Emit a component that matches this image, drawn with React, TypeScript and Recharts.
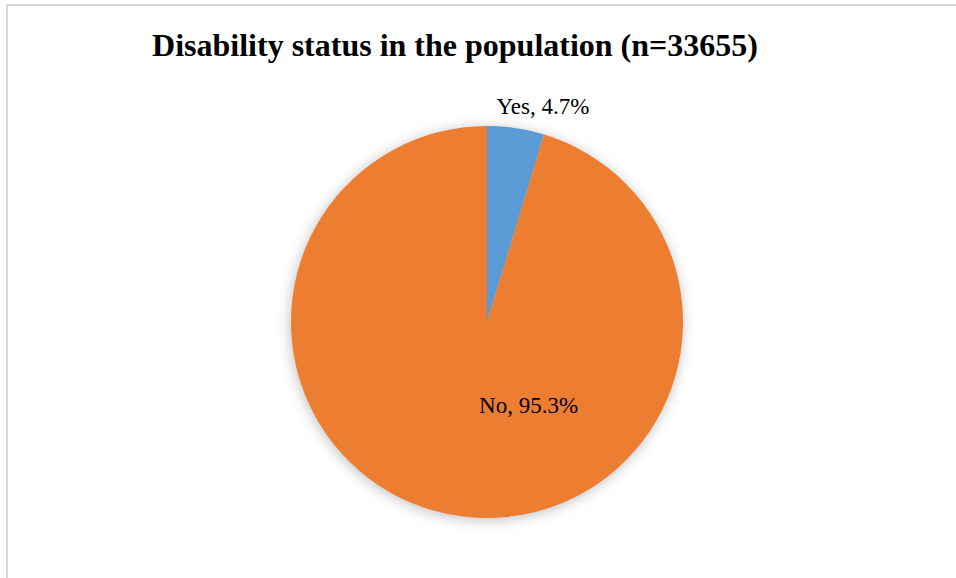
import React from "react";
import { PieChart, Pie, Cell } from "recharts";

const categories = ["Yes", "No"];
const values = [4.7, 95.3];
const colors = ["#5B9BD5", "#ED7D31"];
const title = "Disability status in the population (n=33655)";

const data = categories.map((name, i) => ({ name, value: values[i] }));

// label placement style: radius factor relative to outer radius and horizontal shift
const labelStyle = [
  { rf: 1.11, dx: 24 },
  { rf: 0.43, dx: 54 },
];

const RAD = Math.PI / 180;

const renderLabel = (props: any) => {
  const { cx, cy, outerRadius, midAngle, index, name, value } = props;
  const s = labelStyle[index];
  const r = outerRadius * s.rf;
  const x = cx + r * Math.cos(-midAngle * RAD) + s.dx;
  const y = cy + r * Math.sin(-midAngle * RAD);
  return (
    <text
      x={x}
      y={y}
      textAnchor="middle"
      dominantBaseline="central"
      fontFamily="'Liberation Serif', 'Times New Roman', serif"
      fontSize={23}
      fill="#000"
    >
      {`${name}, ${value.toFixed(1)}%`}
    </text>
  );
};

export default function App() {
  return (
    <div style={{ position: "fixed", left: 0, top: 0, width: 956, height: 578, overflow: "hidden", background: "#fff" }}>
      <style>{`.shadow-pie { filter: blur(4px); }`}</style>
      <div
        style={{
          position: "absolute",
          left: 6,
          top: 4,
          width: 1000,
          height: 1000,
          border: "2px solid #d9d9d9",
          boxSizing: "border-box",
        }}
      />
      <svg width={956} height={80} style={{ position: "absolute", left: 0, top: 0 }}>
        <text
          x={455}
          y={56}
          textAnchor="middle"
          fontFamily="'Liberation Serif', 'Times New Roman', serif"
          fontWeight="bold"
          fontSize={32}
          fill="#000"
        >
          {title}
        </text>
      </svg>
      <div style={{ position: "absolute", left: 0, top: 0 }}>
        <PieChart width={956} height={578} margin={{ top: 0, right: 0, bottom: 0, left: 0 }}>
          <Pie
            data={data}
            dataKey="value"
            nameKey="name"
            cx={486}
            cy={324}
            outerRadius={197}
            startAngle={90}
            endAngle={-270}
            stroke="none"
            fill="rgba(0,0,0,0.22)"
            className="shadow-pie"
            isAnimationActive={false}
            label={false}
          />
          <Pie
            data={data}
            dataKey="value"
            nameKey="name"
            cx={487}
            cy={322}
            outerRadius={196}
            startAngle={90}
            endAngle={-270}
            stroke="none"
            isAnimationActive={false}
            label={renderLabel}
            labelLine={false}
          >
            {data.map((d, i) => (
              <Cell key={d.name} fill={colors[i]} />
            ))}
          </Pie>
        </PieChart>
      </div>
    </div>
  );
}
